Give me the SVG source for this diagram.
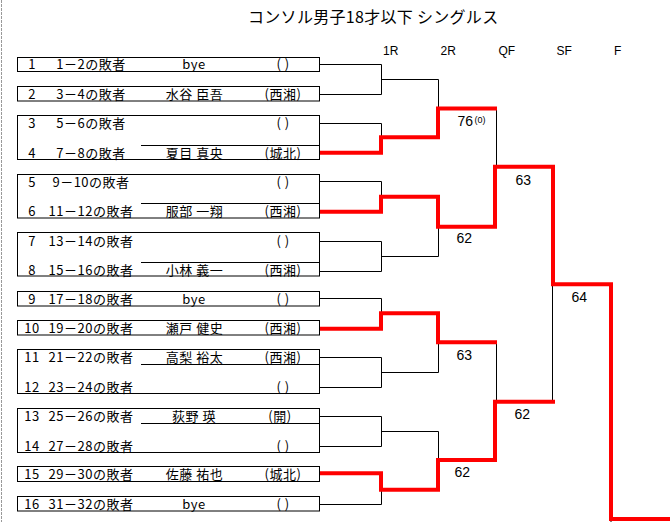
<svg xmlns="http://www.w3.org/2000/svg" width="670" height="522" viewBox="0 0 670 522">
<style>
.bg{fill:#fff}
.box{fill:none;stroke:#000;stroke-width:1}
.sep{stroke:#000;stroke-width:1}
.t{font-family:"Noto Sans CJK JP","Noto Sans",sans-serif;font-size:13px;letter-spacing:0.5px;fill:#000}
.n{text-anchor:middle}
.h{font-family:"Liberation Sans",Arial,sans-serif;font-size:12px;fill:#000}
.s{font-family:"Liberation Sans",Arial,sans-serif;font-size:14px;fill:#000}
.title{font-family:"Noto Sans CJK JP",sans-serif;font-size:16px;fill:#000}
.k{fill:none;stroke:#000;stroke-width:1}
.r{fill:none;stroke:#ff0000;stroke-width:4;stroke-linejoin:miter;stroke-linecap:square}
</style>
<rect class="bg" x="0" y="0" width="670" height="522"/>
<line x1="1.5" y1="0" x2="1.5" y2="522" stroke="#999" stroke-width="1" stroke-dasharray="3,1"/>
<text class="title" x="248" y="23" letter-spacing="0.3">コンソル男子18才以下 シングルス</text>
<g id="headers">
<text class="h" x="383" y="55">1R</text>
<text class="h" x="440.5" y="55">2R</text>
<text class="h" x="498.5" y="55">QF</text>
<text class="h" x="556.5" y="55">SF</text>
<text class="h" x="614" y="55">F</text>
</g>
<g id="box1">
<rect class="box" x="17.5" y="57.5" width="302" height="14"/>
<text class="t n" x="32" y="69">1</text><text class="t n" x="91" y="69">1－2の敗者</text><text class="t n" x="194" y="69">bye</text><text class="t n" x="283" y="69">( )</text>
</g>
<g id="box2">
<rect class="box" x="17.5" y="86.5" width="302" height="14.5"/>
<text class="t n" x="32" y="99">2</text><text class="t n" x="91" y="99">3－4の敗者</text><text class="t n" x="194.5" y="99">水谷 臣吾</text><text class="t n" x="283" y="99">(西湘)</text>
</g>
<g id="box3-4">
<rect class="box" x="17.5" y="115.5" width="302" height="44"/>
<line class="sep" x1="141" y1="145.5" x2="320" y2="145.5"/>
<text class="t n" x="32" y="128">3</text><text class="t n" x="91" y="128">5－6の敗者</text><text class="t n" x="283" y="128">( )</text>
<text class="t n" x="32" y="157.5">4</text><text class="t n" x="91" y="157.5">7－8の敗者</text><text class="t n" x="194.5" y="157.5">夏目 真央</text><text class="t n" x="283" y="157.5">(城北)</text>
</g>
<g id="box5-6">
<rect class="box" x="17.5" y="174.5" width="302" height="43.5"/>
<line class="sep" x1="141" y1="203.5" x2="320" y2="203.5"/>
<text class="t n" x="32" y="186.5">5</text><text class="t n" x="91" y="186.5">9－10の敗者</text><text class="t n" x="283" y="186.5">( )</text>
<text class="t n" x="32" y="216">6</text><text class="t n" x="91" y="216">11－12の敗者</text><text class="t n" x="194.5" y="216">服部 一翔</text><text class="t n" x="283" y="216">(西湘)</text>
</g>
<g id="box7-8">
<rect class="box" x="17.5" y="232.5" width="302" height="43.5"/>
<line class="sep" x1="141" y1="262.5" x2="320" y2="262.5"/>
<text class="t n" x="32" y="245.5">7</text><text class="t n" x="91" y="245.5">13－14の敗者</text><text class="t n" x="283" y="245.5">( )</text>
<text class="t n" x="32" y="275">8</text><text class="t n" x="91" y="275">15－16の敗者</text><text class="t n" x="194.5" y="275">小林 義一</text><text class="t n" x="283" y="275">(西湘)</text>
</g>
<g id="box9">
<rect class="box" x="17.5" y="291.5" width="302" height="14.5"/>
<text class="t n" x="32" y="304">9</text><text class="t n" x="91" y="304">17－18の敗者</text><text class="t n" x="194" y="304">bye</text><text class="t n" x="283" y="304">( )</text>
</g>
<g id="box10">
<rect class="box" x="17.5" y="320.5" width="302" height="14.5"/>
<text class="t n" x="32" y="333">10</text><text class="t n" x="91" y="333">19－20の敗者</text><text class="t n" x="194.5" y="333">瀬戸 健史</text><text class="t n" x="283" y="333">(西湘)</text>
</g>
<g id="box11-12">
<rect class="box" x="17.5" y="349.5" width="302" height="44"/>
<line class="sep" x1="141" y1="364.5" x2="320" y2="364.5"/>
<text class="t n" x="32" y="361.5">11</text><text class="t n" x="91" y="361.5">21－22の敗者</text><text class="t n" x="194.5" y="361.5">高梨 裕太</text><text class="t n" x="283" y="361.5">(西湘)</text>
<text class="t n" x="32" y="392">12</text><text class="t n" x="91" y="392">23－24の敗者</text><text class="t n" x="283" y="392">( )</text>
</g>
<g id="box13-14">
<rect class="box" x="17.5" y="408.5" width="302" height="44"/>
<line class="sep" x1="141" y1="423.5" x2="320" y2="423.5"/>
<text class="t n" x="32" y="420.5">13</text><text class="t n" x="91" y="420.5">25－26の敗者</text><text class="t n" x="194" y="420.5">荻野 瑛</text><text class="t n" x="280" y="420.5">(開)</text>
<text class="t n" x="32" y="451">14</text><text class="t n" x="91" y="451">27－28の敗者</text><text class="t n" x="283" y="451">( )</text>
</g>
<g id="box15">
<rect class="box" x="17.5" y="466.5" width="302" height="15"/>
<text class="t n" x="32" y="479">15</text><text class="t n" x="91" y="479">29－30の敗者</text><text class="t n" x="194.5" y="479">佐藤 祐也</text><text class="t n" x="283" y="479">(城北)</text>
</g>
<g id="box16">
<rect class="box" x="17.5" y="496.5" width="302" height="14.5"/>
<text class="t n" x="32" y="509">16</text><text class="t n" x="91" y="509">31－32の敗者</text><text class="t n" x="194" y="509">bye</text><text class="t n" x="283" y="509">( )</text>
</g>
<g id="connectors">
<path class="k" d="M320,64.5H381.5V94.5H320M381.5,79.5H438.5V108.5"/>
<path class="k" d="M320,123.5H381.5V137"/>
<path class="k" d="M496.5,108.5V167"/>
<path class="k" d="M320,181.5H381.5V196.5"/>
<path class="k" d="M320,241.5H381.5V271.5H320M381.5,256.5H438.5V226.5"/>
<path class="k" d="M320,298.5H381.5V313"/>
<path class="k" d="M320,357.5H381.5V387.5H320M381.5,372.5H438.5V342.5"/>
<path class="k" d="M496.5,342.5V401.5"/>
<path class="k" d="M552.5,284.5V401.5"/>
<path class="k" d="M320,416.5H381.5V446.5H320M381.5,431.5H438.5V460"/>
<path class="k" d="M320,504.5H381.5V489.5"/>
<path class="k" d="M611,519V522"/>
<path class="r" d="M322,152.7H381V137.3H438V108.5H495"/>
<path class="r" d="M322,211.7H381V196.7H438V226.7H495V166.7H553V284.3H611V519H670"/>
<path class="r" d="M322,328.8H381V313.3H438V342.3H495"/>
<path class="r" d="M322,473.3H381V489.7H438V460H495V401.7H553"/>
<text class="s" x="457.5" y="125.5">76</text>
<text class="h" style="font-size:9px" x="474.5" y="123">(0)</text>
<text class="s" x="515.5" y="185">63</text>
<text class="s" x="456.5" y="242.5">62</text>
<text class="s" x="571.5" y="301.5">64</text>
<text class="s" x="456.5" y="359.5">63</text>
<text class="s" x="514.5" y="418.5">62</text>
<text class="s" x="454.5" y="476.5">62</text>
</g>
</svg>
